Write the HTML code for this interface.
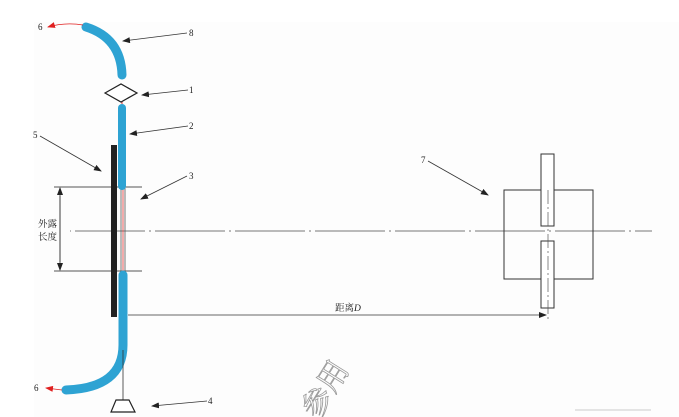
<!DOCTYPE html>
<html><head><meta charset="utf-8"><style>
html,body{margin:0;padding:0;background:#fff;}
svg{display:block;}
text{font-family:"Liberation Serif","Noto Serif CJK SC",serif;}
</style></head><body>
<svg width="679" height="417" viewBox="0 0 679 417" xmlns="http://www.w3.org/2000/svg">
<defs>
<marker id="a" markerWidth="8" markerHeight="6" refX="7" refY="3" orient="auto" markerUnits="userSpaceOnUse"><path d="M0,0 L8,3 L0,6 z" fill="#222"/></marker>
<marker id="r" markerWidth="8" markerHeight="6" refX="7" refY="3" orient="auto" markerUnits="userSpaceOnUse"><path d="M0,0 L8,3 L0,6 z" fill="#e02020"/></marker>
</defs>
<rect x="34" y="22" width="645" height="395" fill="#fdfdfd"/>
<line x1="70" y1="231" x2="652" y2="231" stroke="#777" stroke-width="1" stroke-dasharray="70,4,2,4" stroke-dashoffset="-5"/>
<line x1="54" y1="187" x2="142" y2="187" stroke="#555" stroke-width="1"/>
<line x1="54" y1="271" x2="142" y2="271" stroke="#555" stroke-width="1"/>
<line x1="60" y1="196" x2="60" y2="270" stroke="#333" stroke-width="0.8" marker-end="url(#a)"/>
<line x1="60" y1="262" x2="60" y2="188" stroke="#333" stroke-width="0.8" marker-end="url(#a)"/>
<text x="38" y="227" font-size="9.5" fill="#222">外露</text>
<text x="38" y="240" font-size="9.5" fill="#222">长度</text>
<rect x="111" y="145" width="6" height="172" fill="#222"/>
<line x1="121" y1="187" x2="121" y2="272" stroke="#555" stroke-width="0.8"/>
<line x1="123" y1="187" x2="123" y2="272" stroke="#e03030" stroke-width="0.8"/>
<line x1="125" y1="187" x2="125" y2="272" stroke="#555" stroke-width="0.8"/>
<line x1="122" y1="102" x2="122" y2="107" stroke="#e03030" stroke-width="1"/>
<path d="M86,27 Q121,38 122,75" fill="none" stroke="#2ea3d3" stroke-width="9" stroke-linecap="round"/>
<path d="M83,25 Q65,22 48,27" fill="none" stroke="#e02020" stroke-width="0.8" marker-end="url(#r)"/>
<path d="M105,93 L121,84 L137,93 L121,102 Z" fill="#fff" stroke="#222" stroke-width="1.2"/>
<line x1="122" y1="108" x2="122" y2="186" stroke="#2ea3d3" stroke-width="8" stroke-linecap="round"/>
<path d="M123,275 L123,345 Q123,388 66,390" fill="none" stroke="#2ea3d3" stroke-width="9" stroke-linecap="round"/>
<line x1="62" y1="390" x2="46" y2="388" stroke="#e02020" stroke-width="0.8" marker-end="url(#r)"/>
<line x1="123" y1="350" x2="123" y2="401" stroke="#333" stroke-width="0.8"/>
<path d="M116,400 L129,400 L135,412 L111,412 Z" fill="#fff" stroke="#222" stroke-width="1.2"/>
<line x1="128" y1="315" x2="546" y2="315" stroke="#333" stroke-width="0.8" marker-end="url(#a)"/>
<text x="335" y="311" font-size="9.5" fill="#222">距离<tspan font-style="italic">D</tspan></text>
<rect x="504" y="190" width="89" height="89" fill="none" stroke="#333" stroke-width="1"/>
<rect x="541" y="154" width="13" height="72" fill="#fff" stroke="#333" stroke-width="1"/>
<rect x="541" y="241" width="13" height="67" fill="#fff" stroke="#333" stroke-width="1"/>
<line x1="548" y1="190" x2="548" y2="322" stroke="#555" stroke-width="0.7" stroke-dasharray="14,3,2,3"/>
<line x1="187" y1="33" x2="123" y2="41" stroke="#333" stroke-width="0.8" marker-end="url(#a)"/>
<line x1="188" y1="90" x2="142" y2="95" stroke="#333" stroke-width="0.8" marker-end="url(#a)"/>
<line x1="188" y1="126" x2="130" y2="134" stroke="#333" stroke-width="0.8" marker-end="url(#a)"/>
<line x1="40" y1="136" x2="101" y2="171" stroke="#333" stroke-width="0.8" marker-end="url(#a)"/>
<line x1="187" y1="176" x2="141" y2="199" stroke="#333" stroke-width="0.8" marker-end="url(#a)"/>
<line x1="207" y1="401" x2="152" y2="406" stroke="#333" stroke-width="0.8" marker-end="url(#a)"/>
<line x1="428" y1="161" x2="488" y2="195" stroke="#333" stroke-width="0.8" marker-end="url(#a)"/>
<g font-size="9" fill="#222">
<text x="38" y="30">6</text>
<text x="189" y="36">8</text>
<text x="189" y="93">1</text>
<text x="189" y="129">2</text>
<text x="33" y="138">5</text>
<text x="189" y="179">3</text>
<text x="421" y="163">7</text>
<text x="34" y="391">6</text>
<text x="208" y="404">4</text>
</g>
<text x="0" y="0" font-size="30" fill="none" stroke="#999" stroke-width="0.8" transform="translate(318,420) rotate(-58)" font-family="Noto Sans CJK SC,sans-serif">参用</text>
<line x1="575" y1="410" x2="651" y2="410" stroke="#ccc" stroke-width="1"/>
</svg>
</body></html>
